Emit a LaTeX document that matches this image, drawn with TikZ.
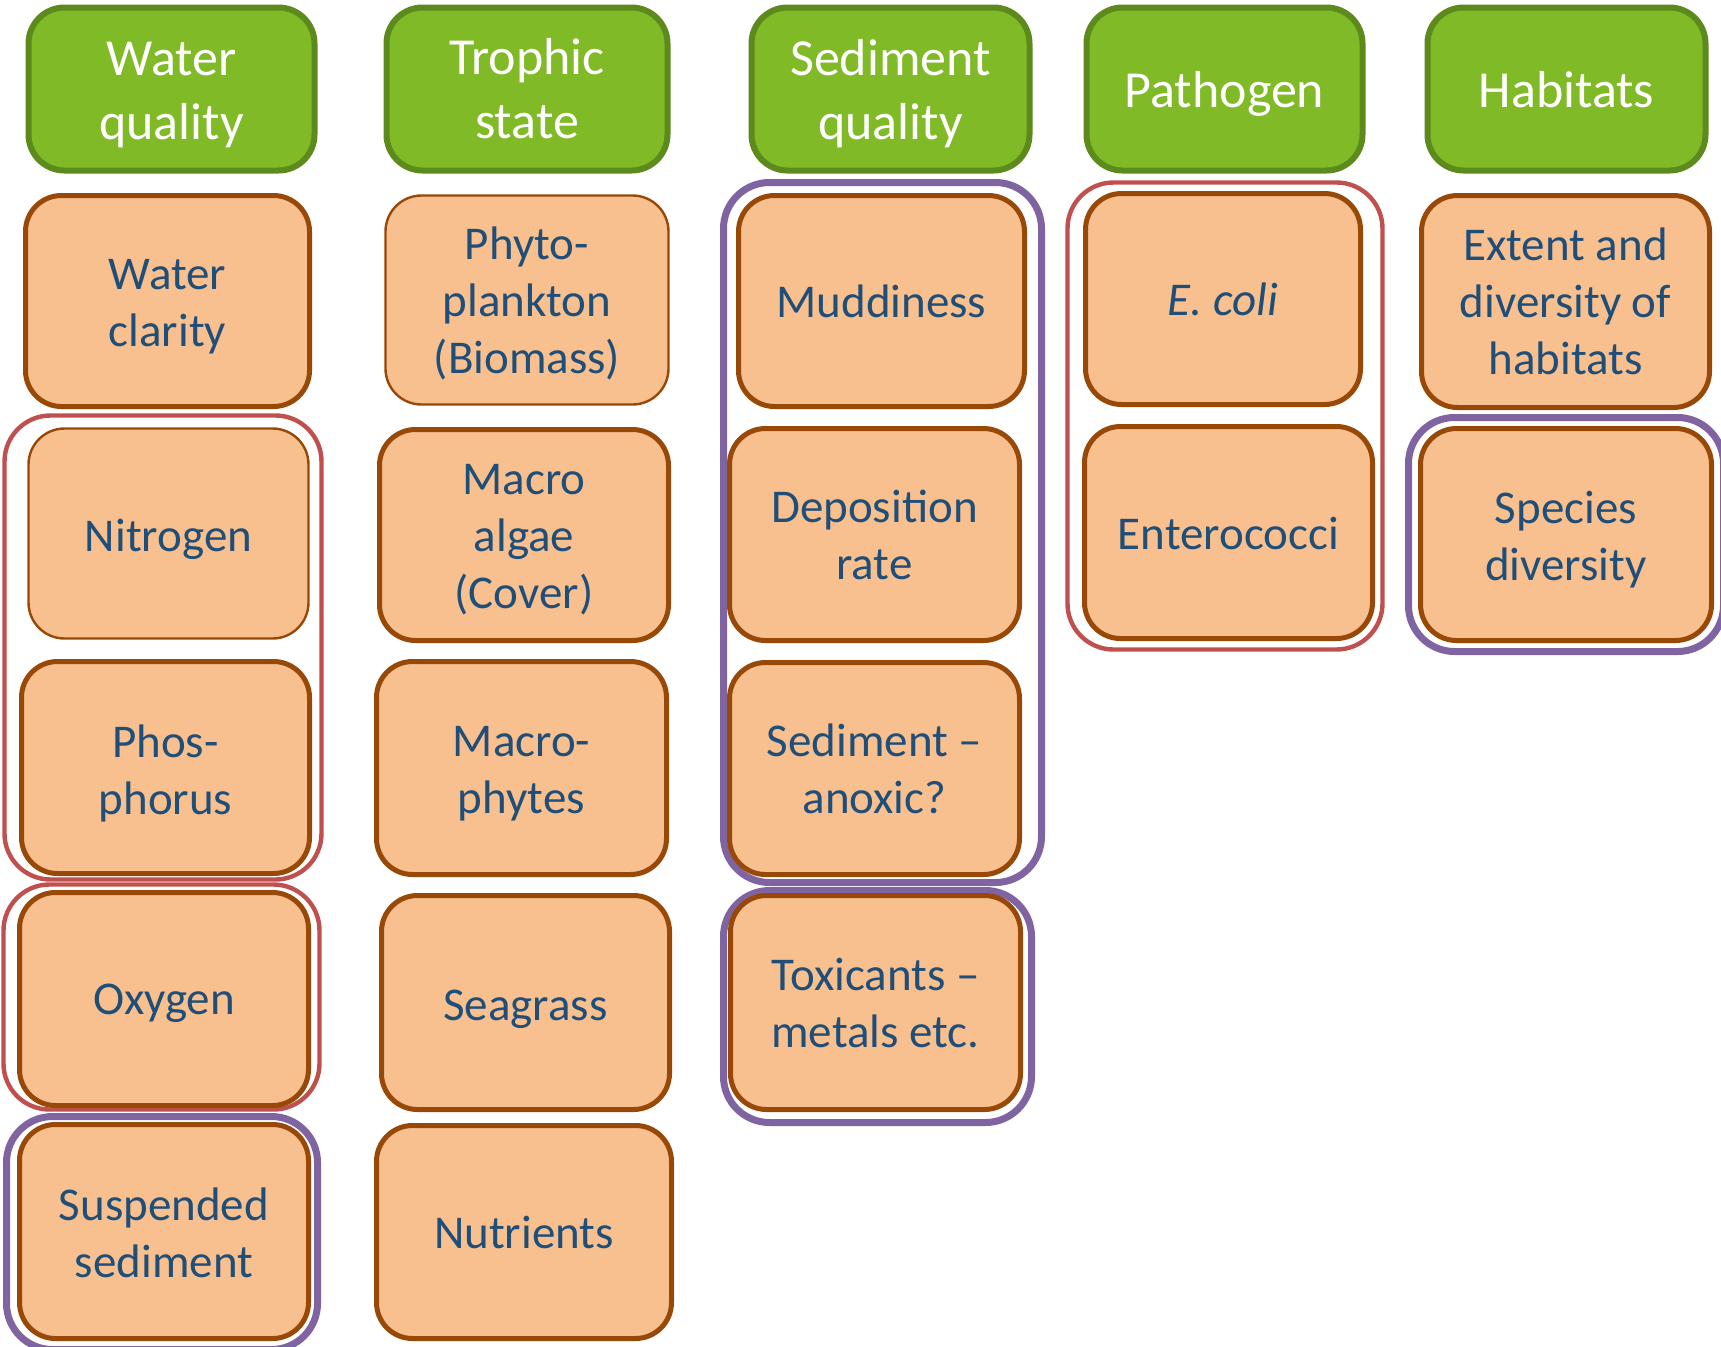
\documentclass[tikz,border=0pt]{standalone}
\usepackage{fontspec}
\setmainfont{Carlito}
\definecolor{hdrfill}{HTML}{80BA27}
\definecolor{hdrline}{HTML}{5D8A1C}
\definecolor{indfill}{HTML}{F9C08F}
\definecolor{indline}{HTML}{984807}
\definecolor{indtext}{HTML}{1F4E79}
\definecolor{grpred}{HTML}{C0504D}
\definecolor{grppur}{HTML}{8064A2}
\tikzset{
  hdr/.style={draw=hdrline, fill=hdrfill, line width=3pt, rounded corners=18pt, inner sep=0pt},
  hdrtxt/.style={text=white, font=\fontsize{26}{32}\selectfont, align=center, inner sep=0pt},
  ind/.style={draw=indline, fill=indfill, line width=2.5pt, rounded corners=18pt, inner sep=0pt},
  indtxt/.style={text=indtext, font=\fontsize{23.5}{28.5}\selectfont, align=center, inner sep=0pt},
  thinline/.style={line width=1.2pt},
  redgrp/.style={draw=grpred, line width=2.2pt, rounded corners=23pt, inner sep=0pt},
  purgrp/.style={draw=grppur, line width=3.5pt, rounded corners=23pt, inner sep=0pt},
}
% [text offset down, px] name, box style, x1, y1, x2, y2, text style, text
\newcommand\pbox[8][0]{\node[#3, minimum width={(#6-#4-5)*0.5pt}, minimum height={(#7-#5-5)*0.5pt}]
  (#2) at ({(#4+#6)/2},{(#5+#7)/2}) {};
  \node[#8] (#2-t) at ([yshift={-(#1)*0.5pt}]#2.center)}
\newcommand\gbox[6]{\node[#2, minimum width={(#5-#3-5)*0.5pt}, minimum height={(#6-#4-5)*0.5pt}]
  (#1) at ({(#3+#5)/2},{(#4+#6)/2}) {};}
\begin{document}
\begin{tikzpicture}[x=0.5pt,y=-0.5pt]
\useasboundingbox (0,0) rectangle (1721,1346);
\clip (0,0) rectangle (1721,1346);
% group outlines
\gbox{gnp}{redgrp}{2}{413}{324}{882}
\gbox{gox}{redgrp}{1}{882}{322}{1112}
\gbox{gss}{purgrp}{4}{1114}{320}{1352}
\gbox{gsed}{purgrp}{721}{180}{1044}{885}
\gbox{gtox}{purgrp}{721}{888}{1034}{1125}
\gbox{gpath}{redgrp}{1065}{180}{1385}{652}
\gbox{ghab}{purgrp}{1406}{415}{1726}{654}
% headers
\pbox[5.5]{hw}{hdr}{26}{5}{317}{173}{hdrtxt} {Water\\quality};
\pbox[0]{ht}{hdr}{384}{5}{670}{173}{hdrtxt} {Trophic\\state};
\pbox[4.5]{hs}{hdr}{749}{5}{1032}{173}{hdrtxt} {Sediment\\quality};
\pbox[4.5]{hp}{hdr}{1084}{5}{1365}{173}{hdrtxt} {Pathogen};
\pbox[1]{hh}{hdr}{1425}{5}{1708}{173}{hdrtxt} {Habitats};
% column 1
\pbox[5.5]{wc}{ind}{23}{193}{312}{409}{indtxt} {Water\\clarity};
\pbox[5.5]{ni}{ind,thinline}{26}{426}{311}{641}{indtxt} {Nitrogen};
\pbox[5.5]{ph}{ind}{19}{659}{312}{876}{indtxt} {Phos-\\phorus};
\pbox[4.5]{ox}{ind}{17}{890}{311}{1108}{indtxt} {Oxygen};
\pbox[1]{ss}{ind}{17}{1122}{311}{1341}{indtxt} {Suspended\\sediment};
% column 2
\pbox[3.3]{py}{ind,thinline}{383}{193}{671}{407}{indtxt} {Phyto-\\plankton\\(Biomass)};
\pbox[4.4]{ma}{ind}{377}{427}{671}{643}{indtxt} {Macro\\algae\\(Cover)};
\pbox[5.5]{mp}{ind}{374}{659}{669}{877}{indtxt} {Macro-\\phytes};
\pbox[6.5]{sg}{ind}{379}{893}{672}{1112}{indtxt} {Seagrass};
\pbox[0]{nu}{ind}{374}{1123}{674}{1341}{indtxt} {Nutrients};
% column 3
\pbox[0]{md}{ind}{736}{193}{1027}{409}{indtxt} {Muddiness};
\pbox[0]{dr}{ind}{727}{426}{1022}{643}{indtxt} {Deposition\\rate};
\pbox[0]{sa}{ind}{727}{660}{1022}{877}{indtxt} {Sediment --\\anoxic?};
\pbox[1]{tx}{ind}{728}{893}{1023}{1112}{indtxt} {Toxicants --\\metals etc.};
% column 4
\pbox[0]{ec}{ind}{1083}{191}{1363}{407}{indtxt} {\itshape E. coli};
\pbox[1]{en}{ind}{1082}{424}{1375}{641}{indtxt} {Enterococci};
% column 5
\pbox[0]{ex}{ind}{1419}{193}{1712}{410}{indtxt} {Extent and\\diversity of\\habitats};
\pbox[5]{sd}{ind}{1418}{426}{1714}{643}{indtxt} {Species\\diversity};
\end{tikzpicture}
\end{document}
